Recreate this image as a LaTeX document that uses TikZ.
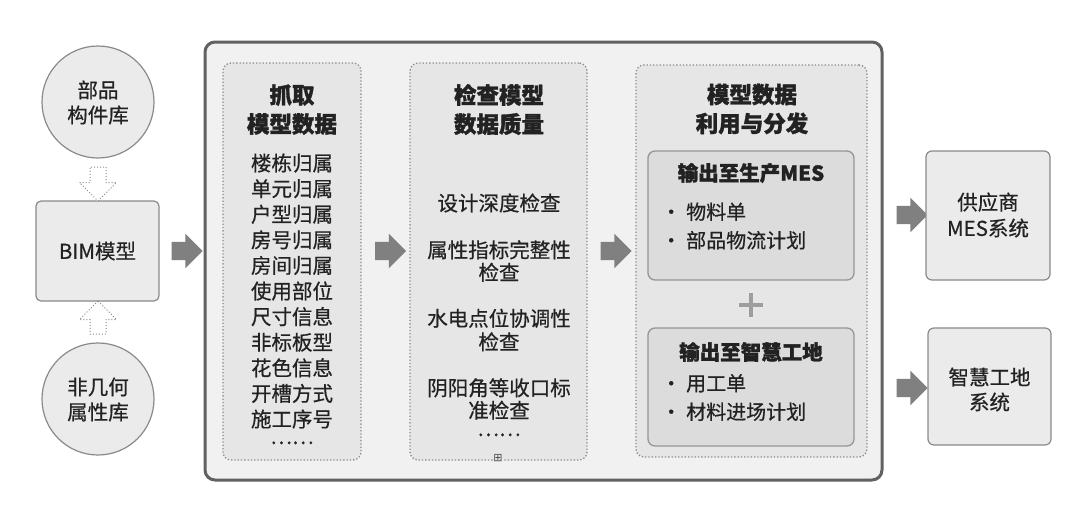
\documentclass[tikz,border=0pt]{standalone}
\usepackage{fontspec}
\setmainfont{Noto Sans CJK SC}[UprightFeatures={FakeBold=0.6}, BoldFeatures={FakeBold=1.4}]
\newfontfamily\symfont{DejaVu Sans}
\usetikzlibrary{shapes.arrows}
\definecolor{txtc}{HTML}{222222}
\definecolor{outerfill}{HTML}{F1F1F1}
\definecolor{dotfill}{HTML}{E6E6E6}
\definecolor{innerfill}{HTML}{DCDCDC}
\definecolor{boxfill}{HTML}{EBEBEB}
\definecolor{linec}{HTML}{8A8A8A}
\definecolor{arrowc}{HTML}{808080}
\begin{document}
\begin{tikzpicture}[x=1pt,y=-1pt,
  txt/.style={font=\fontsize{20.5}{25.6}\selectfont, text=txtc, inner sep=0pt, align=center},
  ttl/.style={font=\bfseries\fontsize{22.5}{29}\selectfont, text=txtc, inner sep=0pt, align=center},
  subttl/.style={font=\bfseries\fontsize{20.5}{25}\selectfont, text=txtc, inner sep=0pt, align=center},
  bul/.style={font=\fontsize{20}{28.5}\selectfont, text=txtc, inner sep=0pt, align=left, anchor=west},
  circbox/.style={circle, draw=linec, line width=1.2pt, fill=boxfill, minimum size=112pt, inner sep=0pt},
  sysbox/.style={rectangle, rounded corners=6pt, draw=linec, line width=1.2pt, fill=boxfill, inner sep=0pt},
  dotbox/.style={rectangle, rounded corners=8pt, draw=linec, dotted, line width=1.3pt, fill=dotfill, inner sep=0pt},
  innerbox/.style={rectangle, rounded corners=7pt, draw=linec!90, line width=1.3pt, fill=innerfill, inner sep=0pt},
  grayarrow/.style={single arrow, fill=arrowc, draw=none, minimum height=31pt,
    single arrow head extend=8pt, inner sep=0pt},
  hollowarrow/.style={single arrow, fill=white, draw=linec, dotted, line width=1pt, minimum height=34pt,
    single arrow head extend=10.5pt, inner sep=0pt},
]
\useasboundingbox (0,0) rectangle (1080,520);
\fill[white] (0,0) rectangle (1080,520);

% left column
\node[circbox] (lib1) at (98,102) {};
\node[txt, font=\fontsize{20.5}{25}\selectfont] (lib1t) at (98,102.5) {部品\\构件库};
\node[sysbox, rounded corners=5pt, minimum width=123pt, minimum height=100pt] (bim) at (97.5,251) {};
\node[txt] (bimt) at (97.5,251) {BIM模型};
\node[circbox] (lib2) at (98,399) {};
\node[txt, font=\fontsize{20.5}{25}\selectfont] (lib2t) at (98,399.5) {非几何\\属性库};
\node[hollowarrow, rotate=-90] (h1) at (98,180) {\rule{0pt}{15pt}};
\node[hollowarrow, rotate=90, minimum height=33pt] (h2) at (98,321.5) {\rule{0pt}{15pt}};

% outer frame
\node[rectangle, rounded corners=10pt, draw=black!62, line width=3pt, fill=outerfill,
  minimum width=677pt, minimum height=438pt, inner sep=0pt] (outer) at (543.5,261) {};

% column 1
\node[dotbox, minimum width=138pt, minimum height=397pt] (c1) at (292,261.5) {};
\node[ttl] (c1t) at (292,109.5) {抓取\\模型数据};
\node[txt] (c1l) at (292,291) {楼栋归属\\单元归属\\户型归属\\房号归属\\房间归属\\使用部位\\尺寸信息\\非标板型\\花色信息\\开槽方式\\施工序号};
\node[txt] (c1d) at (292,444) {\smash{……}};

% column 2
\node[dotbox, minimum width=177pt, minimum height=397pt] (c2) at (498.5,261.5) {};
\node[ttl] (c2t) at (499,109.5) {检查模型\\数据质量};
\node[txt] (c2a) at (499,203) {设计深度检查};
\node[txt, font=\fontsize{20.5}{22.5}\selectfont] (c2b) at (499,261) {属性指标完整性\\检查};
\node[txt, font=\fontsize{20.5}{23.5}\selectfont] (c2c) at (499,330) {水电点位协调性\\检查};
\node[txt, font=\fontsize{20.5}{22.5}\selectfont] (c2e) at (499,399) {阴阳角等收口标\\准检查};
\node[txt] (c2d) at (499,436) {\smash{……}};
\node[font=\symfont\fontsize{11}{11}\selectfont, text=black!70, fill=dotfill, inner sep=0.5pt] (c2s) at (498,458) {⊞};

% column 3
\node[dotbox, minimum width=231pt, minimum height=392pt] (c3) at (751.5,261) {};
\node[ttl] (c3t) at (752,109) {模型数据\\利用与分发};
\node[innerbox, minimum width=206pt, minimum height=129pt] (ia) at (751,215.5) {};
\node[subttl] (iat) at (751,173) {输出至生产MES};
\node[bul] (iab) at (661,226) {·\hspace{5pt}物料单\\·\hspace{5pt}部品物流计划};
\node (plus) at (751,305) {};
\draw[line width=4.5pt, draw=black!38] ([xshift=-12pt]plus.center) -- ([xshift=12pt]plus.center);
\draw[line width=4.5pt, draw=black!38] ([yshift=-12pt]plus.center) -- ([yshift=12pt]plus.center);
\node[innerbox, minimum width=206pt, minimum height=118pt] (ib) at (751,387) {};
\node[subttl] (ibt) at (751,352) {输出至智慧工地};
\node[bul] (ibb) at (661,397.5) {·\hspace{5pt}用工单\\·\hspace{5pt}材料进场计划};

% arrows between stages
\node[grayarrow] (a1) at (182.5,251) {\rule{0pt}{18pt}};
\node[grayarrow] (a2) at (386,251) {\rule{0pt}{18pt}};
\node[grayarrow] (a3) at (611.5,251) {\rule{0pt}{18pt}};
\node[grayarrow] (a4) at (907.5,215) {\rule{0pt}{18pt}};
\node[grayarrow] (a5) at (907.5,388) {\rule{0pt}{18pt}};

% right systems
\node[sysbox, minimum width=124pt, minimum height=129pt] (s1) at (988,215.5) {};
\node[txt, font=\fontsize{20.5}{26}\selectfont] (s1t) at (988,215) {供应商\\MES系统};
\node[sysbox, minimum width=123pt, minimum height=117pt] (s2) at (989.5,386.5) {};
\node[txt, font=\fontsize{20.5}{25}\selectfont] (s2t) at (989.5,389.5) {智慧工地\\系统};
\end{tikzpicture}
\end{document}
